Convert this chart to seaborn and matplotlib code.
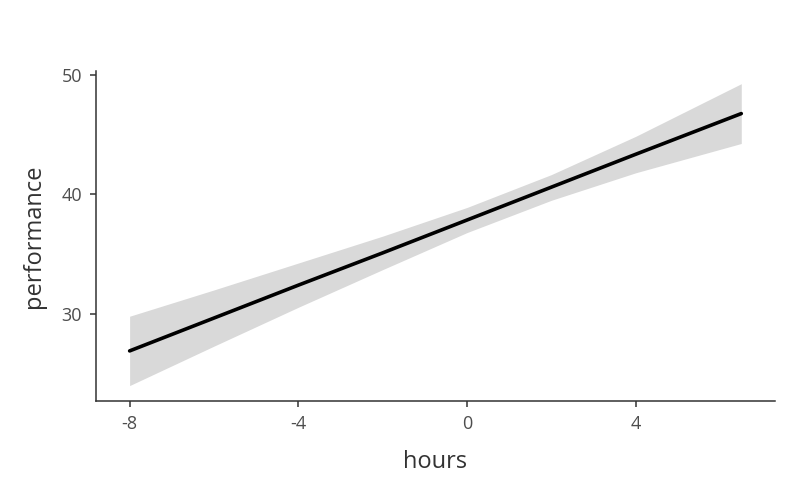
import pandas as pd
import matplotlib
matplotlib.use("Agg")
import matplotlib.pyplot as plt
import seaborn as sns

# values
hours = [-8, -6, -4, -2, 0, 2, 4, 6.5]
performance = [26.9, 29.65, 32.4, 35.1, 37.85, 40.6, 43.35, 46.75]
ci_upper = [29.8, 32.0, 34.25, 36.5, 38.9, 41.65, 44.85, 49.25]
ci_lower = [24.0, 27.3, 30.55, 33.7, 36.8, 39.5, 41.8, 44.25]
x_ticks = [-8, -4, 0, 4]
y_ticks = [30, 40, 50]

df = pd.DataFrame({"hours": hours, "performance": performance,
                   "lo": ci_lower, "hi": ci_upper})

sns.set_theme(style="ticks")
plt.rcParams["font.family"] = ["Open Sans", "DejaVu Sans"]

fig = plt.figure(figsize=(7.99, 4.94), dpi=100)
ax = fig.add_axes([0.120, 0.188, 0.850, 0.668])

# confidence band + fitted line
ax.fill_between(df["hours"], df["lo"], df["hi"], color="#d9d9d9", linewidth=0, zorder=1)
sns.lineplot(data=df, x="hours", y="performance", color="black", linewidth=2.6, ax=ax, zorder=2)

ax.set_xlim(-8.8, 7.3)
ax.set_ylim(22.7, 50.3)
ax.set_xticks(x_ticks)
ax.set_xticklabels([str(t) for t in x_ticks])
ax.set_yticks(y_ticks)

sns.despine(ax=ax)
for side in ["left", "bottom"]:
    ax.spines[side].set_color("#333333")
    ax.spines[side].set_linewidth(1.1)
ax.tick_params(axis="both", colors="#333333", labelcolor="#4d4d4d", labelsize=13,
               length=4, width=1.1, pad=6)

ax.set_xlabel("hours", fontsize=17, color="#333333", labelpad=12)
ax.set_ylabel("performance", fontsize=17, color="#333333", labelpad=11)

fig.savefig("out.png", dpi=100)
